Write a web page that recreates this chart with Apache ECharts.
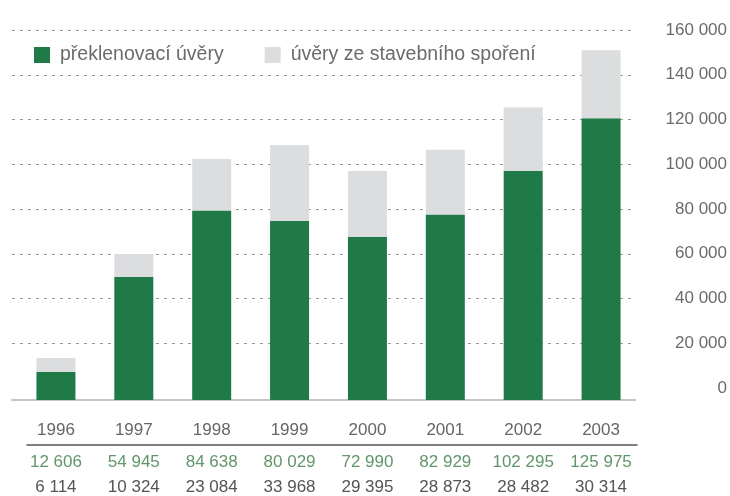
<!DOCTYPE html>
<html>
<head>
<meta charset="utf-8">
<script src="https://cdn.jsdelivr.net/npm/echarts@6/dist/echarts.min.js"></script>
<style>
  html, body { margin: 0; padding: 0; background: #fff; }
  #main { width: 730px; height: 496px; }
</style>
</head>
<body>
<div id="main"></div>
<script>
  // data
  var years = ["1996", "1997", "1998", "1999", "2000", "2001", "2002", "2003"];
  var bridgingLoans = [12606, 54945, 84638, 80029, 72990, 82929, 102295, 125975];
  var savingsLoans = [6114, 10324, 23084, 33968, 29395, 28873, 28482, 30314];
  var seriesNames = ["překlenovací úvěry", "úvěry ze stavebního spoření"];

  var font = "'Liberation Sans', Arial, sans-serif";
  var green = "#1f7a47";
  var grey = "#dcdddf";

  function fmt(v) {
    return String(v).replace(/\B(?=(\d{3})+(?!\d))/g, " ");
  }

  var chartDom = document.getElementById("main");
  var myChart = echarts.init(chartDom);
  var option;

  option = {
    animation: false,
    textStyle: { fontFamily: font },
    legend: {
      left: 29,
      top: 40,
      itemWidth: 16,
      itemHeight: 16,
      itemGap: 41,
      icon: "rect",
      textStyle: { fontFamily: font, fontSize: 19.5, color: "#6b6b6b", padding: [0, 0, 0, 5] },
      data: seriesNames
    },
    grid: [
      // bars
      { left: 17, right: 90, top: 42, bottom: 96 },
      // gridlines + value labels
      { left: 12, right: 93, top: 30, bottom: 108 },
      // table rule
      { left: 27, right: 93, top: 444, height: 1 }
    ],
    xAxis: [
      {
        type: "category", gridIndex: 0, data: years,
        axisLine: { show: false }, axisTick: { show: false },
        axisLabel: { interval: 0, margin: 22, fontSize: 17, color: "#666", fontFamily: font }
      },
      {
        type: "category", gridIndex: 0, data: bridgingLoans.map(fmt), position: "bottom",
        axisLine: { show: false }, axisTick: { show: false },
        axisLabel: { interval: 0, hideOverlap: false, margin: 54, fontSize: 17, color: "#62966a", fontFamily: font }
      },
      {
        type: "category", gridIndex: 0, data: savingsLoans.map(fmt), position: "bottom",
        axisLine: { show: false }, axisTick: { show: false },
        axisLabel: { interval: 0, hideOverlap: false, margin: 79, fontSize: 17, color: "#555", fontFamily: font }
      },
      {
        type: "value", gridIndex: 1, min: 0, max: 1, offset: 12,
        axisLine: { show: true, onZero: false, lineStyle: { color: "#c4c4c4", width: 2 } },
        axisTick: { show: false }, axisLabel: { show: false }, splitLine: { show: false }
      },
      {
        type: "value", gridIndex: 2, min: 0, max: 1,
        axisLine: { show: true, onZero: false, lineStyle: { color: "#555", width: 1.5 } },
        axisTick: { show: false }, axisLabel: { show: false }, splitLine: { show: false }
      }
    ],
    yAxis: [
      {
        type: "value", gridIndex: 0, min: 0, max: 160000,
        show: false, splitLine: { show: false }
      },
      {
        type: "value", gridIndex: 1, min: 0, max: 160000, interval: 20000, position: "right",
        axisLine: { show: false }, axisTick: { show: false },
        axisLabel: {
          align: "right", margin: 92, fontSize: 17, color: "#6b6b6b", fontFamily: font,
          padding: [8, 0, 0, 0], formatter: fmt
        },
        splitLine: {
          show: true, showMinLine: false,
          lineStyle: { color: "#999", width: 1.2, type: [3, 5] }
        }
      },
      {
        type: "value", gridIndex: 2, show: false, min: 0, max: 1, splitLine: { show: false }
      }
    ],
    series: [
      {
        name: seriesNames[0], type: "bar", stack: "total", barWidth: 39,
        xAxisIndex: 0, yAxisIndex: 0,
        itemStyle: { color: green },
        data: bridgingLoans
      },
      {
        name: seriesNames[1], type: "bar", stack: "total", barWidth: 39,
        xAxisIndex: 0, yAxisIndex: 0,
        itemStyle: { color: grey },
        data: savingsLoans
      }
    ]
  };

  option && myChart.setOption(option);
</script>
</body>
</html>
